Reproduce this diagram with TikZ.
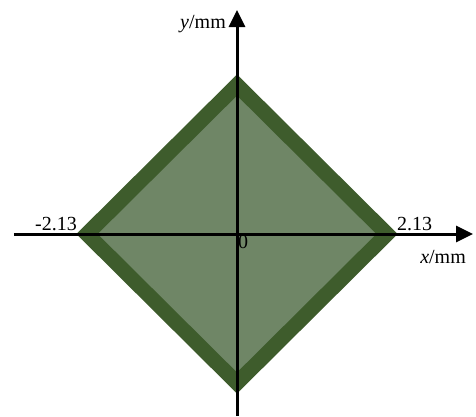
\documentclass[tikz,border=0pt]{standalone}
\usepackage{fontspec}
\setmainfont{Liberation Serif}
\usetikzlibrary{positioning,arrows.meta}

\definecolor{edgegreen}{RGB}{62,92,44}
\definecolor{fillgreen}{RGB}{111,134,102}

\begin{document}
\begin{tikzpicture}[
        x=1pt, y=1pt,
        every node/.style={font=\fontsize{20}{22}\selectfont, inner sep=1pt},
        region/.style={draw=edgegreen, fill=fillgreen, line width=15pt, miter limit=10},
        axis/.style={-{Triangle[length=17pt, width=16pt]}, line width=3pt}
    ]
        \useasboundingbox (-237,-182) rectangle (239,234);

        \coordinate (o) at (0,0);
        \coordinate (xl) at (-223,0);
        \coordinate (xr) at (236,0);
        \coordinate (yb) at (0,-182);
        \coordinate (yt) at (0,224);

        \draw[region] (-150,0) -- (0,149) -- (150,0) -- (0,-149) -- cycle;

        \draw[axis] (xl) -- (xr);
        \draw[axis] (yb) -- (yt);

        \node[anchor=east]  (ylab)  at (-10,210) {\textit{y}/mm};
        \node[anchor=east]  (xlab)  at (230,-23) {\textit{x}/mm};
        \node[anchor=east]  (xmin)  at (-159,10)  {-2.13};
        \node[anchor=west]  (xmax)  at (159,10)   {2.13};
        \node[anchor=north west] (orig) at (o) {0};
\end{tikzpicture}
\end{document}
